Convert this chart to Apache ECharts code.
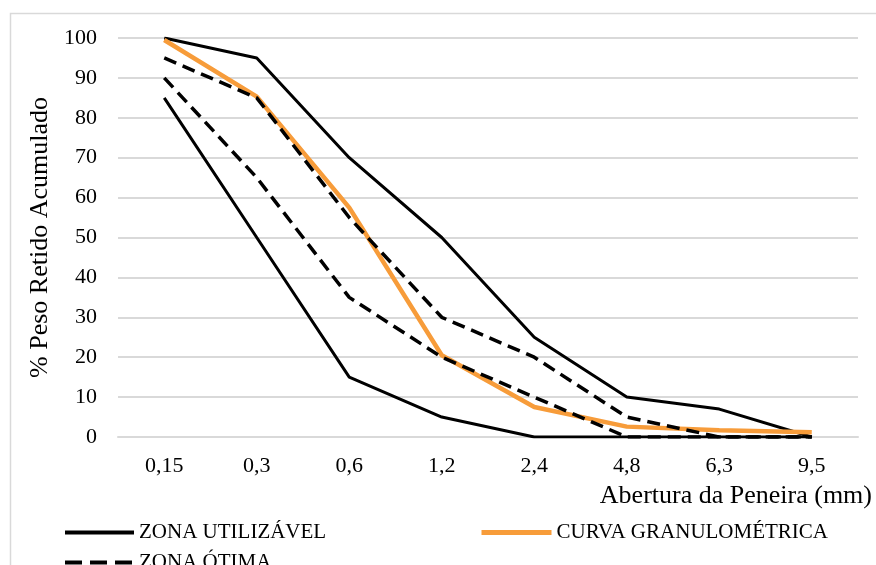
<!DOCTYPE html>
<html>
<head>
<meta charset="utf-8">
<script src="https://cdn.jsdelivr.net/npm/echarts@6/dist/echarts.min.js"></script>
<style>
  html, body { margin: 0; padding: 0; background: #fff; }
  #chart { width: 876px; height: 565px; }
</style>
</head>
<body>
<div id="chart"></div>
<script>
// aberturas das peneiras (mm)
var categories = ['0,15', '0,3', '0,6', '1,2', '2,4', '4,8', '6,3', '9,5'];
// limites da zona utilizável
var utilSuperior = [100, 95, 70, 50, 25, 10, 7, 0];
var utilInferior = [85, 50, 15, 5, 0, 0, 0, 0];
// limites da zona ótima
var otimaSuperior = [95, 85, 55, 30, 20, 5, 0, 0];
var otimaInferior = [90, 65, 35, 20, 10, 0, 0, 0];
// curva do agregado ensaiado
var curva = [99.5, 85.3, 57.5, 20.5, 7.5, 2.6, 1.7, 1.2];

var serif = "'Liberation Serif', 'Times New Roman', serif";
var laranja = '#f79c3a';
var tracejado = [13, 7];

var chart = echarts.init(document.getElementById('chart'));

var legendText = { fontFamily: serif, fontSize: 21, color: '#000' };

var option = {
  backgroundColor: '#fff',
  animation: false,
  graphic: [
    {
      type: 'rect',
      shape: { x: 10.5, y: 13.5, width: 900, height: 600 },
      style: { fill: 'none', stroke: '#d9d9d9', lineWidth: 1.5 },
      silent: true
    },
    {
      type: 'text',
      right: 4,
      top: 483,
      style: { text: 'Abertura da Peneira (mm)', font: '26px ' + serif, fill: '#000' }
    }
  ],
  grid: { left: 118, right: 18, top: 38, bottom: 128 },
  legend: [
    {
      data: ['ZONA UTILIZÁVEL'],
      left: 58, top: 517,
      itemWidth: 69, itemHeight: 14, itemGap: 0,
      itemStyle: { opacity: 0 },
      lineStyle: { width: 4 },
      textStyle: legendText
    },
    {
      data: ['CURVA GRANULOMÉTRICA'],
      left: 474, top: 517,
      itemWidth: 70, itemHeight: 14, itemGap: 0,
      itemStyle: { opacity: 0 },
      lineStyle: { width: 5 },
      textStyle: legendText
    },
    {
      data: ['ZONA ÓTIMA'],
      left: 58, top: 547,
      itemWidth: 69, itemHeight: 14, itemGap: 0,
      itemStyle: { opacity: 0 },
      lineStyle: { width: 4, type: [17, 8] },
      textStyle: legendText
    }
  ],
  xAxis: {
    type: 'category',
    data: categories,
    boundaryGap: true,
    axisLine: { show: true, lineStyle: { color: '#d9d9d9', width: 2 } },
    axisTick: { show: false },
    axisLabel: { fontFamily: serif, fontSize: 22, color: '#000', margin: 18 }
  },
  yAxis: {
    type: 'value',
    min: 0,
    max: 100,
    interval: 10,
    name: '% Peso Retido Acumulado',
    nameLocation: 'middle',
    nameGap: 65,
    nameTextStyle: { fontFamily: serif, fontSize: 26, color: '#000' },
    axisLine: { show: false },
    axisTick: { show: false },
    axisLabel: { fontFamily: serif, fontSize: 22, color: '#000', margin: 21 },
    splitLine: { lineStyle: { color: '#d9d9d9', width: 2 } }
  },
  series: [
    {
      name: 'ZONA UTILIZÁVEL', type: 'line', data: utilSuperior,
      symbol: 'none', lineStyle: { color: '#000', width: 3 }, itemStyle: { color: '#000' }
    },
    {
      name: 'ZONA UTILIZÁVEL', type: 'line', data: utilInferior,
      symbol: 'none', lineStyle: { color: '#000', width: 3 }, itemStyle: { color: '#000' }
    },
    {
      name: 'CURVA GRANULOMÉTRICA', type: 'line', data: curva,
      symbol: 'none', lineStyle: { color: laranja, width: 4.5 }, itemStyle: { color: laranja }
    },
    {
      name: 'ZONA ÓTIMA', type: 'line', data: otimaSuperior,
      symbol: 'none', lineStyle: { color: '#000', width: 3.5, type: tracejado }, itemStyle: { color: '#000' }
    },
    {
      name: 'ZONA ÓTIMA', type: 'line', data: otimaInferior,
      symbol: 'none', lineStyle: { color: '#000', width: 3.5, type: tracejado }, itemStyle: { color: '#000' }
    }
  ]
};

chart.setOption(option);
</script>
</body>
</html>
